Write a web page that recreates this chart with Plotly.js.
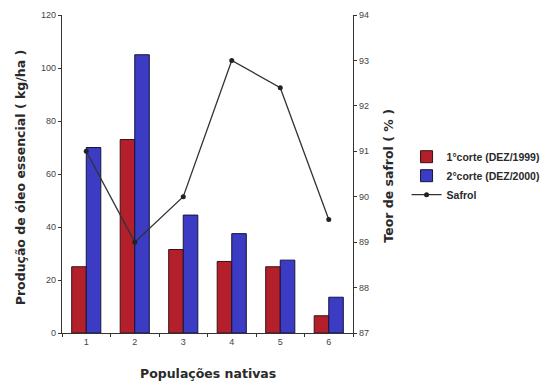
<!DOCTYPE html>
<html>
<head>
<meta charset="utf-8">
<script src="https://cdn.plot.ly/plotly-3.0.1.min.js"></script>
<style>html,body{margin:0;padding:0;background:#fff;}#chart{width:555px;height:382px;}</style>
</head>
<body>
<div id="chart"></div>
<script>
const populacoes = [1, 2, 3, 4, 5, 6];
const tickLabels = ["1", "2", "3", "4", "5", "6"];
const corte1 = [25, 73, 31.5, 27, 25, 6.5];
const corte2 = [70, 105, 44.5, 37.5, 27.5, 13.5];
const safrol = [91.0, 89.0, 90.0, 93.0, 92.4, 89.5];

const txt = "#2a2a2a";
const titleFont = {family: "DejaVu Sans, sans-serif", size: 12.5, color: txt};
const data = [
  {type: "bar", x: populacoes, y: corte1, name: "1°corte (DEZ/1999)",
   marker: {color: "#b3202c", line: {color: "#3a1010", width: 1}}},
  {type: "bar", x: populacoes, y: corte2, name: "2°corte (DEZ/2000)",
   marker: {color: "#3b3bc4", line: {color: "#15153a", width: 1}}},
  {type: "scatter", mode: "lines+markers", x: populacoes, y: safrol, yaxis: "y2", name: "Safrol",
   line: {color: "#333", width: 1.3}, marker: {color: "#222", size: 5}}
];

const layout = {
  width: 555, height: 382,
  margin: {l: 62, r: 201, t: 15, b: 49},
  paper_bgcolor: "#fff", plot_bgcolor: "#fff",
  font: {family: "Liberation Sans, Arial, sans-serif", color: txt, size: 9},
  barmode: "group", bargap: 0.4, bargroupgap: 0,
  showlegend: true,
  legend: {x: 1.18, y: 0.60, xanchor: "left", yanchor: "top", bgcolor: "rgba(0,0,0,0)",
           font: {family: "Liberation Sans, Arial, sans-serif", size: 10.5, weight: "bold", color: txt},
           tracegroupgap: 0, itemwidth: 30},
  xaxis: {range: [0.5, 6.5], tickvals: populacoes, ticktext: tickLabels, ticks: "",
          showgrid: false, zeroline: false, showline: true, linecolor: "#333", linewidth: 1.2,
          tickfont: {size: 9, color: "#444"},
          minor: {tick0: 0.5, dtick: 1, ticks: "outside", ticklen: 3, tickcolor: "#333", showgrid: false}},
  yaxis: {range: [0, 120], dtick: 20, ticks: "outside", ticklen: 3, tickcolor: "#333",
          showgrid: false, zeroline: false, showline: true, linecolor: "#333", linewidth: 1.2,
          tickfont: {size: 9, color: "#444"}},
  yaxis2: {range: [87, 94], dtick: 1, overlaying: "y", side: "right", ticks: "outside", ticklen: 3,
           tickcolor: "#333", showgrid: false, zeroline: false, showline: true, linecolor: "#333",
           linewidth: 1.2, tickfont: {size: 9, color: "#444"}},
  annotations: [
    {text: "<b>Produção de óleo essencial ( kg/ha )</b>", xref: "paper", yref: "paper",
     x: -0.144, y: 0.487, xanchor: "center", yanchor: "middle", textangle: -90, showarrow: false,
     font: titleFont},
    {text: "<b>Teor de safrol ( % )</b>", xref: "paper", yref: "paper",
     x: 1.123, y: 0.494, xanchor: "center", yanchor: "middle", textangle: -90, showarrow: false,
     font: titleFont},
    {text: "<b>Populações nativas</b>", xref: "paper", yref: "paper",
     x: 0.5, y: -0.126, xanchor: "center", yanchor: "middle", showarrow: false,
     font: titleFont}
  ]
};

Plotly.newPlot("chart", data, layout, {displayModeBar: false, staticPlot: true});
</script>
</body>
</html>
